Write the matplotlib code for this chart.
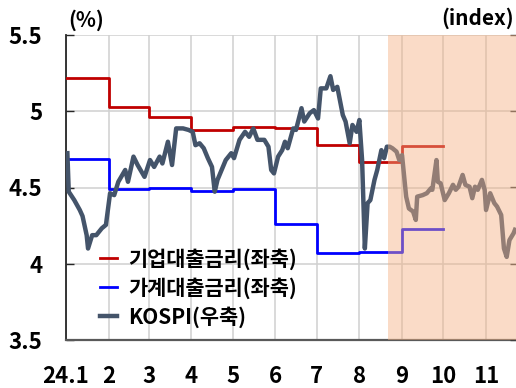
import pandas as pd
import matplotlib
matplotlib.use('Agg')
import matplotlib.pyplot as plt

plt.rcParams['font.family'] = ['Noto Sans CJK KR', 'DejaVu Sans']

# monthly lending rates (%), month start dates; last date closes the final step
rate_months = ['2024-01-01', '2024-02-01', '2024-03-01', '2024-04-01', '2024-05-01',
               '2024-06-01', '2024-07-01', '2024-08-01', '2024-09-01', '2024-10-01']
corp_rate = [5.22, 5.03, 4.96, 4.88, 4.90, 4.89, 4.78, 4.67, 4.77, 4.77]
house_rate = [4.69, 4.49, 4.50, 4.48, 4.49, 4.26, 4.07, 4.08, 4.23, 4.23]

# KOSPI index
kospi_dates = ['2024-01-02', '2024-01-03', '2024-01-07', '2024-01-11', '2024-01-13',
               '2024-01-16', '2024-01-17', '2024-01-20', '2024-01-23', '2024-01-27',
               '2024-01-30', '2024-02-02', '2024-02-05', '2024-02-08', '2024-02-13',
               '2024-02-15', '2024-02-19', '2024-02-22', '2024-02-27', '2024-03-02',
               '2024-03-05', '2024-03-09', '2024-03-11', '2024-03-15', '2024-03-18',
               '2024-03-21', '2024-03-26', '2024-03-30', '2024-04-02', '2024-04-04',
               '2024-04-07', '2024-04-10', '2024-04-13', '2024-04-16', '2024-04-18',
               '2024-04-20', '2024-04-23', '2024-04-26', '2024-04-30', '2024-05-02',
               '2024-05-06', '2024-05-10', '2024-05-13', '2024-05-16', '2024-05-19',
               '2024-05-24', '2024-05-27', '2024-05-29', '2024-05-31', '2024-06-03',
               '2024-06-06', '2024-06-08', '2024-06-10', '2024-06-14', '2024-06-16',
               '2024-06-20', '2024-06-22', '2024-06-26', '2024-06-29', '2024-07-02',
               '2024-07-04', '2024-07-08', '2024-07-11', '2024-07-13', '2024-07-16',
               '2024-07-20', '2024-07-22', '2024-07-25', '2024-07-27', '2024-07-30',
               '2024-08-01', '2024-08-03', '2024-08-05', '2024-08-07', '2024-08-09',
               '2024-08-12', '2024-08-14', '2024-08-17', '2024-08-19', '2024-08-21',
               '2024-08-23', '2024-08-25', '2024-08-28', '2024-08-30', '2024-09-01',
               '2024-09-04', '2024-09-06', '2024-09-09', '2024-09-11', '2024-09-12',
               '2024-09-16', '2024-09-19', '2024-09-22', '2024-09-23', '2024-09-26',
               '2024-09-27', '2024-09-29', '2024-10-02', '2024-10-05', '2024-10-08',
               '2024-10-10', '2024-10-12', '2024-10-15', '2024-10-17', '2024-10-20',
               '2024-10-22', '2024-10-24', '2024-10-26', '2024-10-29', '2024-10-31',
               '2024-11-01', '2024-11-04', '2024-11-07', '2024-11-09', '2024-11-12',
               '2024-11-14', '2024-11-16', '2024-11-18', '2024-11-21', '2024-11-22']
kospi = [2690, 2589, 2567, 2541, 2525, 2475, 2440, 2475, 2475, 2493,
         2502, 2585, 2580, 2615, 2646, 2615, 2681, 2659, 2628, 2672,
         2654, 2681, 2663, 2720, 2659, 2755, 2755, 2751, 2746, 2711,
         2716, 2703, 2677, 2654, 2589, 2620, 2646, 2672, 2690, 2677,
         2725, 2746, 2733, 2755, 2725, 2725, 2707, 2646, 2637, 2681,
         2698, 2720, 2703, 2755, 2751, 2808, 2773, 2795, 2803, 2781,
         2860, 2860, 2892, 2856, 2864, 2790, 2773, 2716, 2764, 2746,
         2777, 2672, 2440, 2559, 2567, 2620, 2646, 2698, 2677, 2707,
         2707, 2703, 2694, 2672, 2685, 2576, 2545, 2537, 2515, 2576,
         2580, 2585, 2598, 2594, 2672, 2615, 2611, 2567, 2585, 2607,
         2594, 2602, 2633, 2607, 2602, 2572, 2602, 2594, 2620, 2594,
         2541, 2585, 2559, 2550, 2528, 2440, 2418, 2462, 2480, 2489]

shade_start = '2024-08-22'
tick_labels = ['24.1', '2', '3', '4', '5', '6', '7', '8', '9', '10', '11']

fig = plt.figure(figsize=(5.16, 3.88), dpi=100)
ax = fig.add_axes([66 / 516, 48 / 388, 452 / 516, 305 / 388])
ax2 = ax.twinx()

months = pd.date_range('2024-01-01', '2024-11-01', freq='MS')

rx = pd.to_datetime(rate_months)
ax.plot(rx, corp_rate, drawstyle='steps-post', color='#C00000', lw=2.0,
        label='기업대출금리(좌축)', zorder=3)
ax.plot(rx, house_rate, drawstyle='steps-post', color='#0000FF', lw=2.0,
        label='가계대출금리(좌축)', zorder=3)
ln, = ax2.plot(pd.to_datetime(kospi_dates), kospi, color='#44546A', lw=3.2,
               label='KOSPI(우축)', zorder=3)

# shaded period drawn on top, semi transparent
ax2.axvspan(pd.Timestamp(shade_start), pd.Timestamp('2024-12-31'),
            color='#F4B183', alpha=0.45, lw=0, zorder=5)

ax.set_ylim(3.5, 5.5)
ax.set_yticks([3.5, 4, 4.5, 5, 5.5])
ax.set_yticklabels(['3.5', '4', '4.5', '5', '5.5'])
ax2.set_ylim(2200, 3000)
ax2.set_yticks([2200, 2400, 2600, 2800, 3000])
ax2.set_yticklabels([])

ax.set_xticks(months)
ax.set_xticklabels(tick_labels)
ax.set_xlim(pd.Timestamp('2024-01-01'), pd.Timestamp('2024-11-24 05:00'))

# light grid under the lines
ax.grid(True, color='#D0D0D0', lw=1.1)
ax.set_axisbelow(True)

for a in (ax, ax2):
    a.spines['top'].set_visible(False)
ax.spines['left'].set_color('#262626')
ax.spines['left'].set_linewidth(1.3)
ax.spines['bottom'].set_color('#595959')
ax.spines['bottom'].set_linewidth(1.6)
ax2.spines['left'].set_visible(False)
ax2.spines['bottom'].set_visible(False)

ax.tick_params(axis='y', direction='in', length=6, width=1, color='#262626',
               pad=17, labelsize=16)
ax.tick_params(axis='x', length=0, pad=18, labelsize=16)
ax2.tick_params(axis='y', direction='in', length=6, width=1, color='#404040')
for t in ax.get_xticklabels() + ax.get_yticklabels():
    t.set_fontweight('heavy')

h, l = ax.get_legend_handles_labels()
leg = ax.legend(h + [ln], l + [ln.get_label()], loc='lower left',
                bbox_to_anchor=(0.057, 0.013), frameon=False, handlelength=0.8,
                handletextpad=0.55, labelspacing=0.35, borderaxespad=0,
                prop={'size': 15, 'weight': 'bold'})

fig.text(86 / 516, 1 - 20 / 388, '(%)', ha='center', va='center',
         fontsize=15, fontweight='heavy')
fig.text(514 / 516, 1 - 18 / 388, '(index)', ha='right', va='center',
         fontsize=15, fontweight='heavy')

fig.savefig('out.png', dpi=100)
